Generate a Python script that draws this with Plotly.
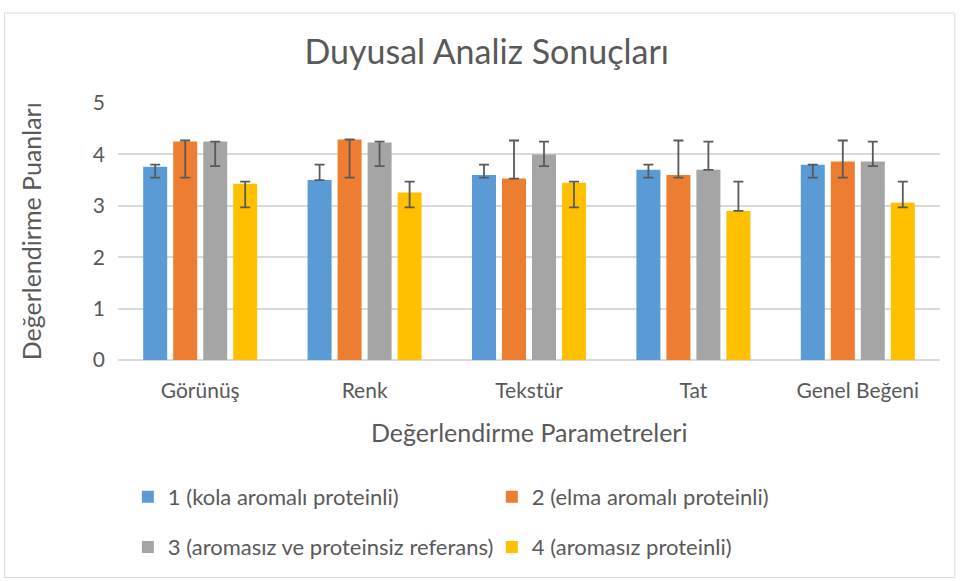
import plotly.graph_objects as go

categories = ["Görünüş", "Renk", "Tekstür", "Tat", "Genel Beğeni"]
series_names = [
    "1 (kola aromalı proteinli)",
    "2 (elma aromalı proteinli)",
    "3 (aromasız ve proteinsiz referans)",
    "4 (aromasız proteinli)",
]
s1 = [3.76, 3.50, 3.60, 3.70, 3.80]
s2 = [4.25, 4.29, 3.53, 3.60, 3.86]
s3 = [4.25, 4.23, 4.00, 3.70, 3.86]
s4 = [3.43, 3.26, 3.45, 2.90, 3.06]
# error bar upper / lower ends (as drawn in the source chart)
err_high = [3.80, 4.27, 4.25, 3.47]
err_low = [3.55, 3.55, 3.77, 2.97]
colors = ["#5B9BD5", "#ED7D31", "#A5A5A5", "#FFC000"]
yticks = [0, 1, 2, 3, 4, 5]

FONT = "Lato"
TXT = "#595959"

fig = go.Figure()
for i, (name, vals) in enumerate(zip(series_names, [s1, s2, s3, s4])):
    plus = [max(err_high[i] - v, 0) for v in vals]
    minus = [max(v - err_low[i], 0) for v in vals]
    fig.add_trace(go.Bar(
        x=categories, y=vals, name=name,
        marker=dict(color=colors[i], line=dict(width=0)),
        error_y=dict(type="data", symmetric=False, array=plus, arrayminus=minus,
                     color="#595959", thickness=1.8, width=5),
        legend="legend" if i < 2 else "legend2",
    ))

legend_common = dict(orientation="h", x=0.012, xanchor="left", yanchor="middle",
                     entrywidth=319, entrywidthmode="pixels", font=dict(size=22, color=TXT),
                     bgcolor="rgba(0,0,0,0)", itemwidth=30)

fig.update_layout(
    width=960, height=581,
    margin=dict(l=118, r=20, t=103, b=221, autoexpand=False),
    paper_bgcolor="white", plot_bgcolor="white",
    barmode="group", bargap=0.27, bargroupgap=0.2,
    font=dict(family=FONT, color=TXT, size=20),
    title=dict(text="Duyusal Analiz Sonuçları", x=0.507, xanchor="center",
               y=0.9105, yanchor="middle", font=dict(size=34, color=TXT, family=FONT)),
    xaxis=dict(showline=False, ticks="", tickfont=dict(size=21, color=TXT),
               ticklabelstandoff=16, automargin=False),
    yaxis=dict(range=[0, 5], tickvals=yticks, showgrid=True, gridcolor="#D9D9D9", gridwidth=1.5,
               zeroline=True, zerolinecolor="#D9D9D9", zerolinewidth=1.5,
               ticks="", tickfont=dict(size=21, color=TXT), ticklabelstandoff=12,
               automargin=False),
    legend=dict(legend_common, y=-0.533),
    legend2=dict(legend_common, y=-0.728),
    annotations=[
        dict(text="Değerlendirme Puanları", xref="paper", yref="paper", x=-0.106, y=0.5,
             xanchor="center", yanchor="middle", textangle=-90, showarrow=False,
             font=dict(size=25, color=TXT)),
        dict(text="Değerlendirme Parametreleri", xref="paper", yref="paper", x=0.5, y=-0.28,
             xanchor="center", yanchor="middle", showarrow=False,
             font=dict(size=25, color=TXT)),
    ],
    shapes=[dict(type="rect", xref="paper", yref="paper",
                 x0=-0.138, x1=1.018, y0=-0.846, y1=1.35,
                 line=dict(color="#D9D9D9", width=1), fillcolor="rgba(0,0,0,0)", layer="below")],
)

fig.write_html("out.html", config={"displayModeBar": False},
               post_script="document.body.style.margin='0';")
